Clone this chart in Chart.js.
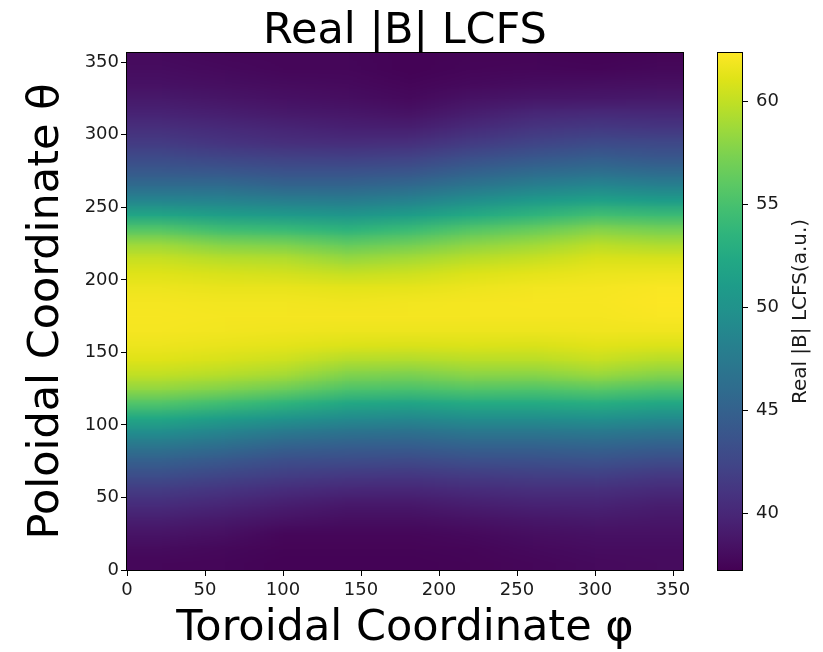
<!DOCTYPE html>
<html>
<head>
<meta charset="utf-8">
<script src="https://cdn.jsdelivr.net/npm/chart.js@4.4.1/dist/chart.umd.min.js"></script>
<style>
  html, body { margin: 0; padding: 0; background: #fff; }
  #wrap { position: relative; width: 823px; height: 652px; }
  #wrap canvas { position: absolute; left: 0; top: 0; }
</style>
</head>
<body>
<div id="wrap">
  <canvas id="main" width="823" height="652"></canvas>
  <canvas id="cbar" width="823" height="652"></canvas>
</div>
<script>
// === Data: |B| on the LCFS, one column per toroidal angle, rows = poloidal angle ===
const phiCenters = [20, 60, 100, 140, 180, 220, 260, 300, 340];
const thetaCenters = [5, 15, 25, 35, 45, 55, 65, 75, 85, 95, 105, 115, 125, 135, 145, 155, 165, 175,
    185, 195, 205, 215, 225, 235, 245, 255, 265, 275, 285, 295, 305, 315, 325, 335, 345, 355];

const bPhi20 = [37.7, 38.0, 38.6, 39.4, 40.4, 41.6, 43.1, 44.8, 46.9, 49.4, 52.3, 55.4, 58.2, 60.0, 61.1, 61.7, 62.0, 62.1,
    62.0, 61.7, 61.1, 60.2, 58.6, 55.6, 52.0, 48.6, 46.0, 44.2, 42.8, 41.6, 40.6, 39.7, 39.0, 38.4, 38.1, 37.9];
const bPhi60 = [37.6, 37.8, 38.3, 39.0, 39.9, 41.0, 42.4, 44.0, 46.0, 48.4, 51.3, 54.5, 57.6, 59.6, 60.8, 61.5, 61.9, 62.0,
    61.9, 61.5, 60.8, 59.6, 57.6, 54.5, 51.3, 48.4, 46.0, 44.0, 42.4, 41.0, 40.2, 39.4, 38.7, 38.2, 37.9, 37.7];
const bPhi100 = [37.4, 37.5, 37.7, 38.5, 39.3, 40.4, 41.7, 43.1, 45.0, 47.3, 50.2, 53.5, 56.7, 59.0, 60.4, 61.3, 61.8, 62.0,
    61.9, 61.5, 60.6, 59.4, 57.3, 54.1, 50.8, 47.9, 45.4, 43.5, 42.0, 40.6, 39.8, 39.0, 38.4, 38.0, 37.7, 37.6];
const bPhi140 = [37.4, 37.5, 37.7, 38.2, 38.9, 40.0, 41.3, 42.9, 44.6, 46.7, 49.3, 52.2, 55.3, 57.6, 59.5, 61.0, 61.7, 62.0,
    61.8, 61.3, 60.1, 58.4, 56.2, 53.4, 50.4, 47.7, 45.4, 43.5, 41.9, 40.5, 39.5, 38.8, 38.2, 37.9, 37.7, 37.6];
const bPhi180 = [37.4, 37.5, 37.7, 38.2, 38.9, 39.9, 41.2, 42.7, 44.5, 46.5, 49.0, 51.9, 55.1, 57.4, 59.4, 60.9, 61.7, 62.0,
    61.9, 61.4, 60.4, 58.9, 56.9, 54.2, 51.2, 48.3, 45.8, 43.8, 42.1, 40.6, 39.4, 38.5, 37.9, 37.6, 37.4, 37.4];
const bPhi220 = [37.5, 37.6, 37.9, 38.5, 39.3, 40.3, 41.6, 43.2, 45.0, 47.1, 49.6, 52.5, 55.6, 58.0, 59.7, 61.0, 61.7, 62.0,
    62.0, 61.7, 61.0, 59.7, 58.0, 55.6, 52.5, 49.6, 47.1, 45.0, 43.2, 41.6, 40.3, 39.3, 38.5, 37.9, 37.6, 37.5];
const bPhi260 = [37.7, 37.9, 38.2, 38.8, 39.6, 40.6, 41.8, 43.3, 45.0, 47.1, 49.6, 52.5, 55.4, 57.9, 59.7, 60.9, 61.7, 62.0,
    62.1, 61.9, 61.3, 60.2, 58.7, 56.5, 53.6, 50.8, 48.1, 45.8, 43.9, 42.3, 41.1, 40.0, 38.8, 38.1, 37.7, 37.5];
const bPhi300 = [37.9, 38.1, 38.4, 39.0, 39.7, 40.6, 41.9, 43.4, 45.2, 47.3, 49.9, 52.8, 55.9, 58.6, 60.2, 61.2, 61.8, 62.0,
    62.1, 62.0, 61.6, 60.9, 59.7, 57.7, 54.7, 51.6, 48.8, 46.4, 44.5, 42.8, 41.4, 40.2, 38.9, 38.2, 37.6, 37.4];
const bPhi340 = [38.0, 38.1, 38.4, 38.8, 39.3, 40.2, 41.3, 42.9, 44.7, 46.8, 49.3, 52.2, 55.2, 57.8, 59.6, 61.0, 61.8, 62.2,
    62.3, 62.2, 61.7, 60.8, 59.2, 57.1, 54.3, 51.1, 48.2, 45.8, 43.9, 42.6, 41.2, 40.1, 39.0, 38.3, 37.8, 37.5];
const bColumns = [bPhi20, bPhi60, bPhi100, bPhi140, bPhi180, bPhi220, bPhi260, bPhi300, bPhi340];

const axisTicks = [0, 50, 100, 150, 200, 250, 300, 350];
const cbarTicks = [40, 45, 50, 55, 60];
const axisMax = 356.4;
const cbMin = 37.25, cbMax = 62.35;

// viridis stops (t = 0 .. 1 in steps of 0.05)
const viridis = ['#440154', '#471365', '#482475', '#463480', '#414487', '#3b528b', '#355f8d', '#2f6c8e',
    '#2a788e', '#25848e', '#21918c', '#1e9c89', '#22a884', '#2fb47c', '#44bf70', '#5ec962', '#7ad151',
    '#9bd93c', '#bddf26', '#dfe318', '#fde725'];

const FONT = 'DejaVu Sans';
Chart.defaults.font.family = FONT;

const hexRgb = h => [1, 3, 5].map(i => parseInt(h.substr(i, 2), 16));
const viridisRgb = viridis.map(hexRgb);
function colorFor(v) {
    let t = (v - cbMin) / (cbMax - cbMin);
    t = Math.max(0, Math.min(1, t));
    const f = t * (viridisRgb.length - 1);
    const i = Math.min(viridisRgb.length - 2, Math.floor(f));
    const w = f - i;
    return viridisRgb[i].map((c, k) => Math.round(c + (viridisRgb[i + 1][k] - c) * w));
}

// one point per cell, carried by the dataset
const cells = [];
phiCenters.forEach((phi, ci) => {
    thetaCenters.forEach((th, ti) => cells.push({ x: phi, y: th, v: bColumns[ci][ti] }));
});

// paint the cells as a bilinear-shaded image placed with the chart's scales
const heatmapPlugin = {
    id: 'heatmap',
    beforeDatasetsDraw(chart) {
        const { ctx, chartArea, scales: { x, y } } = chart;
        const data = chart.data.datasets[0].data;
        const nx = phiCenters.length, ny = thetaCenters.length;
        const off = document.createElement('canvas');
        off.width = nx + 2; off.height = ny + 2;
        const octx = off.getContext('2d');
        const img = octx.createImageData(nx + 2, ny + 2);
        for (let r = 0; r < ny + 2; r++) {
            for (let c = 0; c < nx + 2; c++) {
                const ci = Math.min(nx - 1, Math.max(0, c - 1));
                const ti = Math.min(ny - 1, Math.max(0, ny - r));
                const rgb = colorFor(data[ci * ny + ti].v);
                const p = (r * (nx + 2) + c) * 4;
                img.data[p] = rgb[0]; img.data[p + 1] = rgb[1]; img.data[p + 2] = rgb[2]; img.data[p + 3] = 255;
            }
        }
        octx.putImageData(img, 0, 0);
        const dPhi = phiCenters[1] - phiCenters[0], dTh = thetaCenters[1] - thetaCenters[0];
        const x0 = x.getPixelForValue(phiCenters[0] - dPhi / 2);
        const x1 = x.getPixelForValue(phiCenters[nx - 1] + dPhi / 2);
        const y0 = y.getPixelForValue(thetaCenters[ny - 1] + dTh / 2);
        const y1 = y.getPixelForValue(thetaCenters[0] - dTh / 2);
        ctx.save();
        ctx.beginPath();
        ctx.rect(chartArea.left, chartArea.top, chartArea.width, chartArea.height);
        ctx.clip();
        ctx.imageSmoothingEnabled = true;
        ctx.imageSmoothingQuality = 'low';
        ctx.drawImage(off, 1, 1, nx, ny, x0, y0, x1 - x0, y1 - y0);
        ctx.restore();
    },
    afterDraw(chart) {
        const { ctx, chartArea: a } = chart;
        ctx.save();
        ctx.strokeStyle = '#000';
        ctx.lineWidth = 1;
        ctx.strokeRect(Math.round(a.left) - 0.5, Math.round(a.top) - 0.5, Math.round(a.width) + 1, Math.round(a.height) + 1);
        ctx.restore();
    }
};

const tickOpts = (extra) => Object.assign({
    font: { size: 18 }, color: '#1a1a1a'
}, extra);
const gridOpts = { drawOnChartArea: false, drawTicks: true, tickLength: 6, color: '#000', lineWidth: 1 };

const keepTicks = list => scale => { scale.ticks = list.map(v => ({ value: v })); };

new Chart(document.getElementById('main'), {
    type: 'scatter',
    data: { datasets: [{ data: cells, pointRadius: 0, pointHoverRadius: 0 }] },
    options: {
        responsive: false, animation: false, devicePixelRatio: 1,
        layout: { padding: { left: 0, right: 140, top: 0, bottom: 0 } },
        plugins: {
            legend: { display: false }, tooltip: { enabled: false },
            title: {
                display: true, text: 'Real |B| LCFS', color: '#000', fullSize: false,
                font: { size: 43, weight: 'normal', lineHeight: 1.0 }, padding: { top: 10, bottom: 0 }
            }
        },
        scales: {
            x: {
                type: 'linear', min: 0, max: axisMax,
                afterBuildTicks: keepTicks(axisTicks),
                ticks: tickOpts({ padding: 4, maxRotation: 0 }),
                grid: gridOpts, border: { color: '#000' },
                title: {
                    display: true, text: 'Toroidal Coordinate φ', color: '#000',
                    font: { size: 43, lineHeight: 1.1 }, padding: { top: 0, bottom: 0 }
                },
                afterFit: s => { s.height = 82; }
            },
            y: {
                type: 'linear', min: 0, max: axisMax,
                afterBuildTicks: keepTicks(axisTicks),
                ticks: tickOpts({ padding: 2 }),
                grid: gridOpts, border: { color: '#000' },
                title: {
                    display: true, text: 'Poloidal Coordinate θ', color: '#000',
                    font: { size: 43 }, padding: { top: 21, bottom: 0 }
                },
                afterFit: s => { s.width = 127; }
            }
        }
    },
    plugins: [heatmapPlugin]
});

// === Colorbar ===
const colorbarPlugin = {
    id: 'colorbar',
    beforeDatasetsDraw(chart) {
        const { ctx, chartArea: a, scales: { y } } = chart;
        const g = ctx.createLinearGradient(0, y.getPixelForValue(cbMin), 0, y.getPixelForValue(cbMax));
        viridis.forEach((c, i) => g.addColorStop(i / (viridis.length - 1), c));
        ctx.save();
        ctx.fillStyle = g;
        ctx.fillRect(a.left, a.top, a.width, a.height);
        ctx.strokeStyle = '#000';
        ctx.lineWidth = 1;
        ctx.strokeRect(Math.round(a.left) - 0.5, Math.round(a.top) - 0.5, Math.round(a.width) + 1, Math.round(a.height) + 1);
        // colorbar label, reading bottom to top
        ctx.translate(801, (a.top + a.bottom) / 2);
        ctx.rotate(-Math.PI / 2);
        ctx.font = '20px "' + FONT + '"';
        ctx.fillStyle = '#1a1a1a';
        ctx.textAlign = 'center';
        ctx.textBaseline = 'middle';
        ctx.fillText('Real |B| LCFS(a.u.)', 0, 0);
        ctx.restore();
    }
};

new Chart(document.getElementById('cbar'), {
    type: 'scatter',
    data: { datasets: [{ data: [], pointRadius: 0 }] },
    options: {
        responsive: false, animation: false, devicePixelRatio: 1,
        layout: { padding: { left: 718, right: 0, top: 53, bottom: 82 } },
        plugins: { legend: { display: false }, tooltip: { enabled: false } },
        scales: {
            x: { display: false, min: 0, max: 1 },
            y: {
                type: 'linear', position: 'right', min: cbMin, max: cbMax,
                afterBuildTicks: keepTicks(cbarTicks),
                ticks: tickOpts({ padding: 8 }),
                grid: gridOpts, border: { color: '#000' },
                afterFit: s => { s.width = 81; }
            }
        }
    },
    plugins: [colorbarPlugin]
});
</script>
</body>
</html>
